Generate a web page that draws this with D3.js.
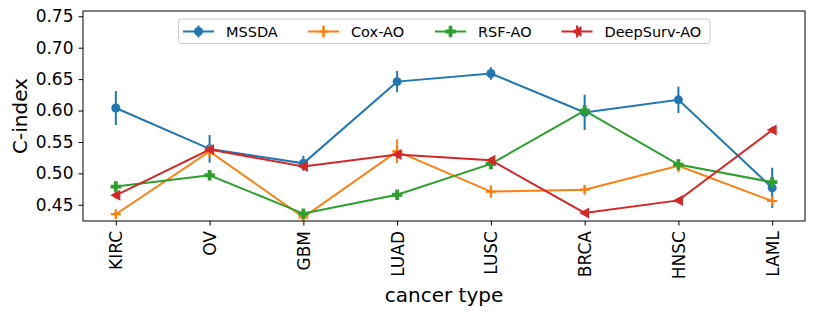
<!DOCTYPE html>
<html>
<head>
<meta charset="utf-8">
<script src="https://cdn.jsdelivr.net/npm/d3@7"></script>
<style>
  body { margin: 0; background: #fff; }
  text { font-family: "DejaVu Sans", sans-serif; fill: #000; }
</style>
</head>
<body>
<div id="chart"></div>
<script>
const categories = ["KIRC", "OV", "GBM", "LUAD", "LUSC", "BRCA", "HNSC", "LAML"]

const seriesNames = ["MSSDA", "Cox-AO", "RSF-AO", "DeepSurv-AO"]

const mssda = [0.604, 0.539, 0.516, 0.646, 0.659, 0.597, 0.617, 0.477]
const mssdaErr = [0.027, 0.022, 0.012, 0.017, 0.010, 0.028, 0.021, 0.032]

const cox = [0.435, 0.535, 0.430, 0.535, 0.471, 0.474, 0.512, 0.456]
const coxErr = [0.005, 0.010, 0.007, 0.019, 0.010, 0.006, 0.010, 0.008]

const rsf = [0.479, 0.497, 0.436, 0.466, 0.515, 0.600, 0.514, 0.486]
const rsfErr = [0.005, 0.005, 0.005, 0.005, 0.005, 0.005, 0.005, 0.005]

const deepsurv = [0.465, 0.538, 0.511, 0.530, 0.521, 0.437, 0.457, 0.569]
const deepsurvErr = [0.005, 0.004, 0.005, 0.006, 0.004, 0.004, 0.003, 0.005]

const yTicks = [0.45, 0.50, 0.55, 0.60, 0.65, 0.70, 0.75]

const palette = ["#1f77b4", "#ff7f0e", "#2ca02c", "#d62728"]
const markers = ["circle", "plus", "plusFilled", "triLeft"]

const width = 814, height = 316
const margin = {left: 83, right: 9, top: 11, bottom: 95}

const svg = d3.select("#chart").append("svg")
  .attr("width", width)
  .attr("height", height)

svg.append("rect").attr("width", width).attr("height", height).attr("fill", "#fff")

const x = d3.scalePoint()
  .domain(categories)
  .range([margin.left, width - margin.right])
  .padding(0.35)

const y = d3.scaleLinear()
  .domain([0.4242, 0.7584])
  .range([height - margin.bottom, margin.top])

// axes
const xAxis = svg.append("g")
  .attr("transform", "translate(0," + (height - margin.bottom) + ")")
  .call(d3.axisBottom(x).tickSize(4.5).tickPadding(5))
xAxis.select(".domain").remove()
xAxis.selectAll("line").attr("stroke", "#000").attr("stroke-width", 1)
xAxis.selectAll("text")
  .attr("font-size", 17)
  .attr("transform", "rotate(-90)")
  .attr("text-anchor", "end")
  .attr("x", -10)
  .attr("y", 0)
  .attr("dy", "0.35em")

const yAxis = svg.append("g")
  .attr("transform", "translate(" + margin.left + ",0)")
  .call(d3.axisLeft(y).tickValues(yTicks).tickFormat(d3.format(".2f")).tickSize(4.5).tickPadding(5))
yAxis.select(".domain").remove()
yAxis.selectAll("line").attr("stroke", "#000").attr("stroke-width", 1)
yAxis.selectAll("text").attr("font-size", 17)

svg.append("text")
  .attr("transform", "translate(27," + (margin.top + (height - margin.bottom - margin.top) / 2) + ") rotate(-90)")
  .attr("text-anchor", "middle")
  .attr("font-size", 20)
  .text("C-index")

svg.append("text")
  .attr("x", margin.left + (width - margin.right - margin.left) / 2)
  .attr("y", 302)
  .attr("text-anchor", "middle")
  .attr("font-size", 20)
  .text("cancer type")

function drawMarker(g, type, color, cx, cy) {
  if (type === "circle") {
    g.append("circle").attr("cx", cx).attr("cy", cy).attr("r", 4.5).attr("fill", color)
  } else if (type === "plus") {
    g.append("path")
      .attr("d", `M${cx - 5},${cy}H${cx + 5}M${cx},${cy - 5}V${cy + 5}`)
      .attr("stroke", color).attr("stroke-width", 2.2).attr("fill", "none")
  } else if (type === "plusFilled") {
    const a = 5.2, b = 1.9
    g.append("path")
      .attr("d", `M${cx - b},${cy - a}H${cx + b}V${cy - b}H${cx + a}V${cy + b}H${cx + b}V${cy + a}H${cx - b}V${cy + b}H${cx - a}V${cy - b}H${cx - b}Z`)
      .attr("fill", color)
  } else if (type === "triLeft") {
    g.append("path")
      .attr("d", `M${cx - 5.5},${cy}L${cx + 4.5},${cy - 5.5}L${cx + 4.5},${cy + 5.5}Z`)
      .attr("fill", color)
  }
}

const series = [
  {name: seriesNames[0], vals: mssda, err: mssdaErr},
  {name: seriesNames[1], vals: cox, err: coxErr},
  {name: seriesNames[2], vals: rsf, err: rsfErr},
  {name: seriesNames[3], vals: deepsurv, err: deepsurvErr}
]

const line = d3.line()
  .x((d, i) => x(categories[i]))
  .y(d => y(d))

const plot = svg.append("g")

series.forEach((s, k) => {
  const g = plot.append("g")
  g.append("path")
    .datum(s.vals)
    .attr("d", line)
    .attr("fill", "none")
    .attr("stroke", palette[k])
    .attr("stroke-width", 2)
  s.vals.forEach((v, i) => {
    const cx = x(categories[i])
    g.append("line")
      .attr("x1", cx).attr("x2", cx)
      .attr("y1", y(v - s.err[i])).attr("y2", y(v + s.err[i]))
      .attr("stroke", palette[k]).attr("stroke-width", 2)
    drawMarker(g, markers[k], palette[k], cx, y(v))
  })
})

// frame
svg.append("rect")
  .attr("x", margin.left).attr("y", margin.top)
  .attr("width", width - margin.right - margin.left)
  .attr("height", height - margin.bottom - margin.top)
  .attr("fill", "none").attr("stroke", "#000").attr("stroke-width", 1)

// legend
const legend = svg.append("g")
legend.append("rect")
  .attr("x", 178.5).attr("y", 19).attr("width", 531.5).attr("height", 24.5)
  .attr("rx", 3).attr("fill", "#fff").attr("fill-opacity", 0.8)
  .attr("stroke", "#ccc").attr("stroke-width", 1)

const legendX = [183, 308, 435, 561.5]
series.forEach((s, k) => {
  const lx = legendX[k], ly = 31.5
  legend.append("line")
    .attr("x1", lx).attr("x2", lx + 31).attr("y1", ly).attr("y2", ly)
    .attr("stroke", palette[k]).attr("stroke-width", 2)
  legend.append("line")
    .attr("x1", lx + 15.5).attr("x2", lx + 15.5).attr("y1", ly - 6).attr("y2", ly + 6)
    .attr("stroke", palette[k]).attr("stroke-width", 2)
  drawMarker(legend, markers[k], palette[k], lx + 15.5, ly)
  legend.append("text")
    .attr("x", lx + 43).attr("y", ly + 5)
    .attr("font-size", 14.5)
    .text(s.name)
})
</script>
</body>
</html>
